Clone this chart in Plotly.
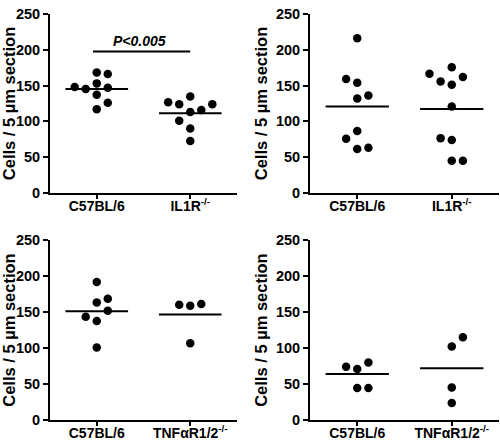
import plotly.graph_objects as go

# ---- data ----
categories_top = ["C57BL/6", "IL1R<sup>-/-</sup>"]
categories_bot = ["C57BL/6", "TNF\u03b1R1/2<sup>-/-</sup>"]

# panel A (top-left)
a_wt = [168, 166, 148, 145, 153, 147, 137, 126, 117]
a_wt_col = [0, 1, -2, -1, 0, 1, 0, 1, 0]
a_ko = [126.6, 124, 134.6, 124, 113, 116, 101, 90, 72.7]
a_ko_col = [-2, -1, 0, 2, 0, 1, -1, 0, 0]
a_means = [145.2, 111.3]

# panel B (top-right)
b_wt = [216, 159, 154, 132, 136, 86.6, 75.8, 61.5, 63.3]
b_wt_col = [0, -1, 0, 0, 1, 0, -1, 0, 1]
b_ko = [166.5, 155.7, 175.5, 151, 162, 120.7, 76.7, 74, 45, 45.3]
b_ko_col = [-2, -1, 0, 0, 1, 0, -1, 0, 0, 1]
b_means = [120.7, 117.2]

# panel C (bottom-left)
c_wt = [192, 163.5, 168.5, 143.4, 152, 137.5, 100.8]
c_wt_col = [0, 0, 1, -1, 1, 0, 0]
c_ko = [160.4, 159, 161.3, 106.6]
c_ko_col = [-1, 0, 1, 0]
c_means = [151.1, 146.8]

# panel D (bottom-right)
d_wt = [74, 70.8, 79.7, 44.4, 44.4]
d_wt_col = [-1, 0, 1, 0, 1]
d_ko = [102, 115, 45, 23.3]
d_ko_col = [0, 1, 0, 0]
d_means = [63.6, 71.7]

y_ticks = [0, 50, 100, 150, 200, 250]
y_title = "Cells / 5 \u00b5m section"
p_text = "P<0.005"
p_level = 197.5

COL_STEP = 0.118
HALF_W = 0.335

panels = [
    (a_wt, a_wt_col, a_ko, a_ko_col, a_means, categories_top, "x", "y"),
    (b_wt, b_wt_col, b_ko, b_ko_col, b_means, categories_top, "x2", "y2"),
    (c_wt, c_wt_col, c_ko, c_ko_col, c_means, categories_bot, "x3", "y3"),
    (d_wt, d_wt_col, d_ko, d_ko_col, d_means, categories_bot, "x4", "y4"),
]

fig = go.Figure()
shapes = []
for wt, wtc, ko, koc, means, cats, xa, ya in panels:
    for gi, (vals, cols) in enumerate([(wt, wtc), (ko, koc)]):
        fig.add_trace(go.Scatter(
            x=[gi + c * COL_STEP for c in cols], y=vals, mode="markers",
            marker=dict(color="black", size=8.5),
            xaxis=xa, yaxis=ya, showlegend=False, hoverinfo="y"))
        shapes.append(dict(type="line", xref=xa, yref=ya,
                           x0=gi - HALF_W, x1=gi + HALF_W, y0=means[gi], y1=means[gi],
                           line=dict(color="black", width=2)))

shapes.append(dict(type="line", xref="x", yref="y", x0=-0.04, x1=1.0,
                   y0=p_level, y1=p_level, line=dict(color="black", width=2)))

font_axis = dict(family="Liberation Sans, Arial, sans-serif", size=14, color="black")

xdoms = [[0.1, 0.474], [0.62, 0.998], [0.1, 0.474], [0.62, 0.998]]
ydoms = [[0.5714, 0.9866], [0.5714, 0.9866], [0.0469, 0.4621], [0.0469, 0.4621]]

layout = dict(
    width=500, height=448, margin=dict(l=0, r=0, t=0, b=0),
    paper_bgcolor="white", plot_bgcolor="white",
    shapes=shapes, font=font_axis,
)
for i in range(4):
    sfx = "" if i == 0 else str(i + 1)
    cats = panels[i][5]
    layout["xaxis" + sfx] = dict(
        domain=xdoms[i], range=[-0.5, 1.5], anchor="y" + sfx,
        tickvals=[0, 1], ticktext=["<b>%s</b>" % c for c in cats],
        ticks="outside", ticklen=4, tickwidth=2, tickcolor="black",
        ticklabelstandoff=-5,
        showline=True, linewidth=2, linecolor="black", showgrid=False, zeroline=False,
        tickfont=dict(size=14), fixedrange=True)
    layout["yaxis" + sfx] = dict(
        domain=ydoms[i], range=[0, 250], anchor="x" + sfx,
        tickvals=y_ticks, ticktext=["<b>%d</b>" % t for t in y_ticks],
        ticks="outside", ticklen=5, tickwidth=2, tickcolor="black",
        showline=True, linewidth=2, linecolor="black", showgrid=False, zeroline=False,
        title=dict(text="<b>%s</b>" % y_title, font=dict(size=16.5), standoff=4),
        tickfont=dict(size=14.5), fixedrange=True)

layout["annotations"] = [dict(xref="x", yref="y", x=0.46, y=p_level, yanchor="bottom",
                              text="<b><i>%s</i></b>" % p_text, showarrow=False,
                              font=dict(size=14, color="black"), yshift=0)]

fig.update_layout(**layout)
fig.write_html("out.html", config={"displayModeBar": False},
               post_script="document.body.style.margin='0';document.body.style.overflow='hidden';")
